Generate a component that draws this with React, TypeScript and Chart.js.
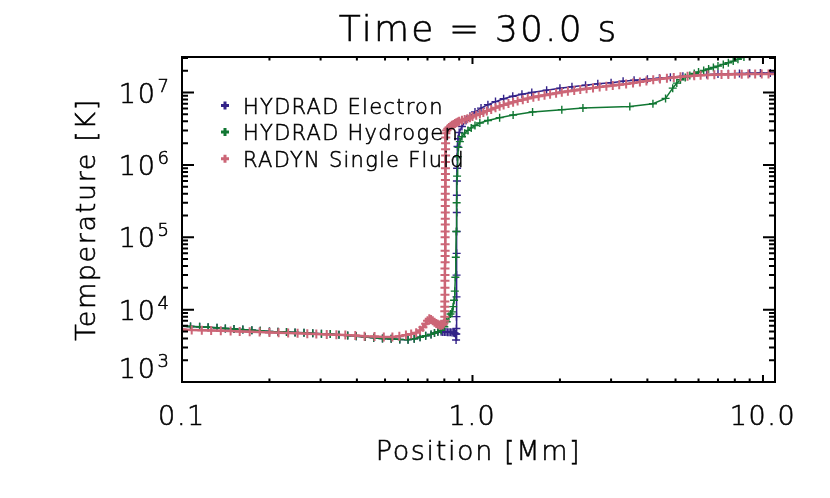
import React, { useEffect, useRef } from 'react';
import { Chart, registerables } from 'chart.js';

Chart.register(...registerables);

// ---------- data ----------
const X_MIN = 0.1;
const X_MAX = 11;
const Y_MIN = 1e3;
const Y_MAX = 3.1e7;

const xTickValues = [0.1, 1, 10];
const xTickLabels = ['0.1', '1.0', '10.0'];
const yTickExponents = [3, 4, 5, 6, 7];

const TITLE = 'Time = 30.0 s';
const X_TITLE = 'Position [Mm]';
const Y_TITLE = 'Temperature [K]';

const seriesNames = ['HYDRAD Electron', 'HYDRAD Hydrogen', 'RADYN Single Fluid'];
const seriesColors = ['#332288', '#117733', '#CC6677'];

// HYDRAD Hydrogen
const hydrogenX = [0.1, 0.107, 0.115, 0.123, 0.132, 0.141, 0.151, 0.162, 0.174, 0.186, 0.2, 0.214, 0.229, 0.245, 0.263, 0.282, 0.302, 0.324, 0.347, 0.372, 0.398, 0.427, 0.457, 0.49, 0.525, 0.562, 0.6, 0.63, 0.66, 0.69, 0.72, 0.74, 0.76, 0.78, 0.8, 0.815, 0.83, 0.84, 0.85, 0.858, 0.864, 0.869, 0.873, 0.876, 0.879, 0.882, 0.885, 0.889, 0.895, 0.905, 0.92, 0.94, 0.965, 0.99, 1.02, 1.06, 1.13, 1.24, 1.38, 1.61, 2.03, 2.4, 3.48, 4.18, 4.62, 4.89, 5.05, 5.2, 5.4, 5.6, 5.8, 6.0, 6.25, 6.5, 6.75, 7.0, 7.3, 7.6, 7.9, 8.2, 8.6, 9.0];
const hydrogenT = [5900, 5850, 5800, 5700, 5600, 5500, 5400, 5300, 5200, 5100, 5000, 4950, 4900, 4850, 4800, 4700, 4650, 4600, 4500, 4400, 4300, 4200, 4100, 4000, 3950, 3880, 3850, 3950, 4150, 4350, 4550, 4750, 4950, 5200, 5800, 6800, 8000, 8700, 9300, 1.1e4, 1.35e4, 1.8e4, 2.8e4, 5.3e4, 1.2e5, 3.0e5, 7e5, 1.3e6, 1.75e6, 2.1e6, 2.45e6, 2.75e6, 3.0e6, 3.25e6, 3.5e6, 3.8e6, 4.1e6, 4.5e6, 4.9e6, 5.4e6, 5.8e6, 6.1e6, 6.4e6, 7.0e6, 8.3e6, 1.15e7, 1.35e7, 1.5e7, 1.62e7, 1.72e7, 1.83e7, 1.92e7, 2.02e7, 2.12e7, 2.22e7, 2.32e7, 2.45e7, 2.58e7, 2.72e7, 2.88e7, 3.1e7, 3.35e7];

// HYDRAD Electron
const electronX = [0.1, 0.107, 0.115, 0.123, 0.132, 0.141, 0.151, 0.162, 0.174, 0.186, 0.2, 0.214, 0.229, 0.245, 0.263, 0.282, 0.302, 0.324, 0.347, 0.372, 0.398, 0.427, 0.457, 0.49, 0.525, 0.562, 0.6, 0.63, 0.66, 0.69, 0.72, 0.74, 0.76, 0.78, 0.79, 0.8, 0.81, 0.82, 0.83, 0.84, 0.85, 0.86, 0.868, 0.874, 0.878, 0.8795, 0.88, 0.8805, 0.881, 0.8815, 0.882, 0.8825, 0.883, 0.8835, 0.884, 0.885, 0.886, 0.888, 0.892, 0.9, 0.92, 0.95, 0.98, 1.02, 1.07, 1.13, 1.2, 1.28, 1.376, 1.48, 1.6, 1.8, 2.0, 2.2, 2.45, 2.7, 3.0, 3.3, 3.6, 4.0, 4.4, 4.8, 5.3, 5.8, 6.4, 7.0, 7.6, 8.3, 9.0, 9.8, 10.6, 11.0];
const electronT = [5900, 5850, 5800, 5700, 5600, 5500, 5400, 5300, 5200, 5100, 5000, 4950, 4900, 4850, 4800, 4700, 4650, 4600, 4500, 4400, 4300, 4200, 4100, 4000, 3950, 3880, 3850, 3950, 4150, 4350, 4550, 4750, 4950, 4950, 4900, 4900, 4900, 4880, 4870, 4860, 4850, 4800, 4750, 4600, 3800, 4600, 5500, 8000, 1.5e4, 3e4, 6e4, 1.2e5, 2.2e5, 3.8e5, 6e5, 9e5, 1.3e6, 1.8e6, 2.3e6, 2.8e6, 3.4e6, 4.1e6, 4.7e6, 5.4e6, 6.1e6, 6.8e6, 7.5e6, 8.2e6, 8.9e6, 9.5e6, 1.0e7, 1.08e7, 1.15e7, 1.2e7, 1.26e7, 1.32e7, 1.37e7, 1.43e7, 1.48e7, 1.53e7, 1.58e7, 1.63e7, 1.68e7, 1.73e7, 1.77e7, 1.8e7, 1.82e7, 1.84e7, 1.85e7, 1.86e7, 1.86e7, 1.86e7];

// RADYN Single Fluid (chromosphere, transition region, corona)
const radynLowX = [0.1, 0.108, 0.117, 0.126, 0.136, 0.147, 0.158, 0.171, 0.185, 0.2, 0.215, 0.232, 0.25, 0.27, 0.29, 0.315, 0.34, 0.365, 0.395, 0.425, 0.46, 0.495, 0.53, 0.56, 0.59, 0.615, 0.64, 0.66, 0.675, 0.69, 0.7, 0.71, 0.72, 0.73, 0.74, 0.75, 0.76, 0.77, 0.78, 0.79, 0.797, 0.802];
const radynLowT = [5300, 5250, 5200, 5150, 5100, 5050, 5000, 4950, 4900, 4850, 4800, 4750, 4700, 4650, 4600, 4550, 4500, 4450, 4400, 4300, 4250, 4200, 4200, 4300, 4450, 4600, 4800, 5200, 5700, 6400, 7000, 7500, 7300, 7000, 6700, 6450, 6300, 6150, 6100, 6200, 6500, 7000];
const radynRiseX = [0.803, 0.803, 0.803, 0.803, 0.804, 0.804, 0.804, 0.804, 0.804, 0.805, 0.805, 0.805, 0.805, 0.805, 0.805, 0.806, 0.806, 0.806, 0.806, 0.806, 0.806, 0.807, 0.807, 0.807, 0.807, 0.807, 0.808, 0.808, 0.808, 0.809, 0.81];
const radynRiseT = [8000, 9500, 1.1e4, 1.3e4, 1.6e4, 2e4, 2.5e4, 3e4, 3.7e4, 4.5e4, 5.5e4, 6.5e4, 8e4, 1e5, 1.2e5, 1.5e5, 1.8e5, 2.2e5, 2.7e5, 3.3e5, 4e5, 5e5, 6.2e5, 7.5e5, 9e5, 1.1e6, 1.35e6, 1.65e6, 2e6, 2.4e6, 2.75e6];
const radynHighX = [0.815, 0.822, 0.83, 0.84, 0.85, 0.86, 0.87, 0.88, 0.89, 0.9, 0.92, 0.94, 0.96, 0.98, 1.0, 1.03, 1.06, 1.09, 1.12, 1.16, 1.2, 1.24, 1.28, 1.33, 1.38, 1.43, 1.49, 1.55, 1.62, 1.69, 1.77, 1.85, 1.94, 2.03, 2.13, 2.24, 2.35, 2.47, 2.6, 2.74, 2.89, 3.04, 3.2, 3.38, 3.57, 3.77, 3.97, 4.19, 4.42, 4.67, 4.93, 5.2, 5.5, 5.8, 6.1, 6.45, 6.8, 7.2, 7.6, 8.0, 8.45, 8.9, 9.4, 9.9, 10.45, 11.0];
const radynHighT = [3.0e6, 3.15e6, 3.3e6, 3.42e6, 3.53e6, 3.63e6, 3.73e6, 3.83e6, 3.92e6, 4.0e6, 4.15e6, 4.25e6, 4.35e6, 4.5e6, 4.65e6, 4.85e6, 5.05e6, 5.3e6, 5.55e6, 5.85e6, 6.15e6, 6.45e6, 6.75e6, 7.05e6, 7.35e6, 7.65e6, 7.95e6, 8.3e6, 8.6e6, 8.9e6, 9.2e6, 9.5e6, 9.8e6, 1.01e7, 1.04e7, 1.07e7, 1.1e7, 1.13e7, 1.16e7, 1.19e7, 1.22e7, 1.25e7, 1.28e7, 1.31e7, 1.35e7, 1.4e7, 1.45e7, 1.5e7, 1.54e7, 1.58e7, 1.62e7, 1.65e7, 1.68e7, 1.71e7, 1.73e7, 1.75e7, 1.76e7, 1.77e7, 1.78e7, 1.79e7, 1.79e7, 1.8e7, 1.8e7, 1.8e7, 1.8e7, 1.8e7];

const radynX = [...radynLowX, ...radynRiseX, ...radynHighX];
const radynT = [...radynLowT, ...radynRiseT, ...radynHighT];

// ---------- drawing helpers ----------
const FONT = '"DejaVu Sans", "Liberation Sans", sans-serif';
const WEIGHT = '200';

function setFont(ctx: CanvasRenderingContext2D, size: number) {
  ctx.font = `${WEIGHT} ${size}px ${FONT}`;
  (ctx as any).letterSpacing = `${(size * 0.06).toFixed(2)}px`;
}

function drawText(ctx: CanvasRenderingContext2D, text: string, x: number, y: number) {
  ctx.fillText(text, x, y);
  ctx.lineWidth = 0.55;
  ctx.strokeStyle = ctx.fillStyle as string;
  ctx.strokeText(text, x, y);
}

function toPoints(xs: number[], ys: number[]) {
  return xs.map((x, i) => ({ x, y: ys[i] }));
}

const idlFrame = {
  id: 'idlFrame',
  afterDatasetsDraw(chart: any) {
    const { ctx, chartArea: a, scales } = chart;
    const xs = scales.x;
    const ys = scales.y;
    ctx.save();
    ctx.strokeStyle = '#000';
    ctx.fillStyle = '#000';
    ctx.lineWidth = 2;
    ctx.lineCap = 'butt';
    ctx.strokeRect(a.left, a.top, a.right - a.left, a.bottom - a.top);

    const xMaj = 7, xMin = 3.5, yMaj = 12, yMin = 6;
    ctx.beginPath();
    for (let d = -1; d <= 1; d++) {
      for (let m = 1; m <= 9; m++) {
        const v = m * Math.pow(10, d);
        if (v < X_MIN * 0.999 || v > X_MAX) continue;
        const px = xs.getPixelForValue(v);
        const len = m === 1 ? xMaj : xMin;
        ctx.moveTo(px, a.bottom);
        ctx.lineTo(px, a.bottom - len);
        ctx.moveTo(px, a.top);
        ctx.lineTo(px, a.top + len);
      }
    }
    for (let d = 3; d <= 7; d++) {
      for (let m = 1; m <= 9; m++) {
        const v = m * Math.pow(10, d);
        if (v < Y_MIN * 0.999 || v > Y_MAX) continue;
        const py = ys.getPixelForValue(v);
        const len = m === 1 ? yMaj : yMin;
        ctx.moveTo(a.left, py);
        ctx.lineTo(a.left + len, py);
        ctx.moveTo(a.right, py);
        ctx.lineTo(a.right - len, py);
      }
    }
    ctx.stroke();

    // x tick labels
    setFont(ctx, 27);
    ctx.textAlign = 'center';
    ctx.textBaseline = 'alphabetic';
    xTickValues.forEach((v, i) => {
      const px = xs.getPixelForValue(v);
      drawText(ctx, xTickLabels[i], px, a.bottom + 43);
    });

    // y tick labels: 10^n
    const rightEdge = a.left - 12;
    yTickExponents.forEach((e) => {
      let py = ys.getPixelForValue(Math.pow(10, e));
      if (py > a.bottom - 2) py -= 14;
      setFont(ctx, 18);
      const sup = String(e);
      const supW = ctx.measureText(sup).width;
      ctx.textAlign = 'left';
      drawText(ctx, sup, rightEdge - supW, py - 1);
      setFont(ctx, 27);
      ctx.textAlign = 'right';
      drawText(ctx, '10', rightEdge - supW - 1, py + 10);
    });

    // title
    const cx = (a.left + a.right) / 2;
    setFont(ctx, 36);
    ctx.textAlign = 'center';
    drawText(ctx, TITLE, cx, 41);

    // x title
    setFont(ctx, 27);
    drawText(ctx, X_TITLE, cx, 460);

    // y title
    ctx.save();
    ctx.translate(95, (a.top + a.bottom) / 2);
    ctx.rotate(-Math.PI / 2);
    ctx.textAlign = 'center';
    drawText(ctx, Y_TITLE, 0, 0);
    ctx.restore();

    // legend
    const lx = 225;
    const rows = [105.5, 132, 158.7];
    seriesNames.forEach((name, i) => {
      const y = rows[i];
      ctx.strokeStyle = seriesColors[i];
      ctx.lineWidth = 3;
      ctx.beginPath();
      ctx.moveTo(lx - 4, y);
      ctx.lineTo(lx + 4, y);
      ctx.moveTo(lx, y - 4);
      ctx.lineTo(lx, y + 4);
      ctx.stroke();
      setFont(ctx, 21);
      ctx.fillStyle = '#000';
      ctx.textAlign = 'left';
      drawText(ctx, name, 243, y + 8);
    });

    ctx.restore();
  },
};

export default function App() {
  const ref = useRef<HTMLCanvasElement>(null);

  useEffect(() => {
    const canvas = ref.current;
    if (!canvas) return;
    const chart = new Chart(canvas, {
      type: 'line',
      data: {
        datasets: [
          {
            label: seriesNames[2],
            data: toPoints(radynX, radynT),
            borderColor: seriesColors[2],
            backgroundColor: seriesColors[2],
            borderWidth: 2.5,
            pointStyle: 'cross',
            pointRadius: 4.5,
            pointBorderWidth: 2,
            pointBorderColor: seriesColors[2],
            tension: 0,
            order: 0,
          },
          {
            label: seriesNames[1],
            data: toPoints(hydrogenX, hydrogenT),
            borderColor: seriesColors[1],
            backgroundColor: seriesColors[1],
            borderWidth: 1.5,
            pointStyle: 'cross',
            pointRadius: 4,
            pointBorderWidth: 1.4,
            pointBorderColor: seriesColors[1],
            tension: 0,
            order: 1,
          },
          {
            label: seriesNames[0],
            data: toPoints(electronX, electronT),
            borderColor: seriesColors[0],
            backgroundColor: seriesColors[0],
            borderWidth: 1.5,
            pointStyle: 'cross',
            pointRadius: 4,
            pointBorderWidth: 1.4,
            pointBorderColor: seriesColors[0],
            tension: 0,
            order: 2,
          },
        ],
      },
      options: {
        responsive: false,
        animation: false,
        devicePixelRatio: 1,
        layout: { padding: { left: 182, top: 57, right: 55, bottom: 116 } },
        scales: {
          x: { type: 'logarithmic', min: X_MIN, max: X_MAX, display: false },
          y: { type: 'logarithmic', min: Y_MIN, max: Y_MAX, display: false },
        },
        plugins: {
          legend: { display: false },
          tooltip: { enabled: false },
          title: { display: false },
        },
        events: [],
      },
      plugins: [idlFrame],
    });
    return () => chart.destroy();
  }, []);

  return (
    <div style={{ position: 'absolute', left: 0, top: 0, width: 830, height: 498, background: '#fff' }}>
      <canvas ref={ref} width={830} height={498} style={{ width: 830, height: 498, display: 'block' }} />
    </div>
  );
}
